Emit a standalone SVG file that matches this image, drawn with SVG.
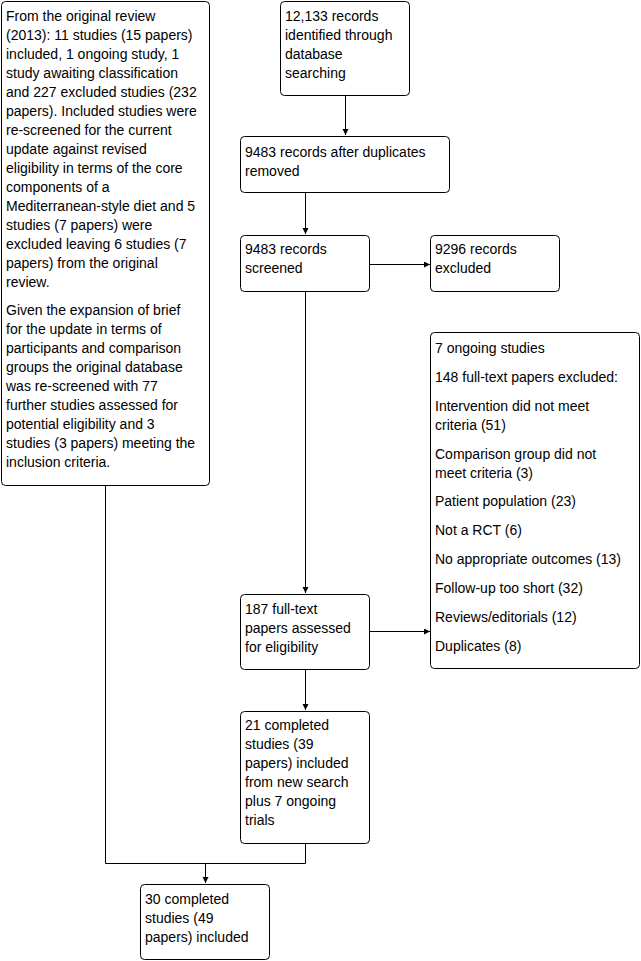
<svg xmlns="http://www.w3.org/2000/svg" width="641" height="961" viewBox="0 0 641 961">
<style>
.box{fill:#fff;stroke:#000;stroke-width:1}
text{font-family:"Liberation Sans",Arial,sans-serif;font-size:14px;fill:#000}
.c{fill:none;stroke:#000;stroke-width:1}
</style>
<defs>
<marker id="ah" markerWidth="6" markerHeight="8" refX="6" refY="3" orient="auto" markerUnits="userSpaceOnUse">
<path d="M0,0 L6,3 L0,6 Z" fill="#000"/>
</marker>
</defs>
<rect width="641" height="961" fill="#fff"/>
<g id="connectors">
<path class="c" d="M345.5,95 V135" marker-end="url(#ah)"/>
<path class="c" d="M305.5,193 V234" marker-end="url(#ah)"/>
<path class="c" d="M369,264.5 H430" marker-end="url(#ah)"/>
<path class="c" d="M305.5,291 V593" marker-end="url(#ah)"/>
<path class="c" d="M369,631.5 H430" marker-end="url(#ah)"/>
<path class="c" d="M305.5,670 V710" marker-end="url(#ah)"/>
<path class="c" d="M305.5,843 V863.5 H105.5 V485"/>
<path class="c" d="M205.5,863.5 V883" marker-end="url(#ah)"/>
</g>
<g id="orig">
<rect class="box" x="1.5" y="1.5" width="208" height="484" rx="4"/>
<text x="6"><tspan x="6" y="21">From the original review</tspan><tspan x="6" y="40">(2013): 11 studies (15 papers)</tspan><tspan x="6" y="59">included, 1 ongoing study, 1</tspan><tspan x="6" y="78">study awaiting classification</tspan><tspan x="6" y="97">and 227 excluded studies (232</tspan><tspan x="6" y="116">papers). Included studies were</tspan><tspan x="6" y="135">re-screened for the current</tspan><tspan x="6" y="154">update against revised</tspan><tspan x="6" y="173">eligibility in terms of the core</tspan><tspan x="6" y="192">components of a</tspan><tspan x="6" y="211">Mediterranean-style diet and 5</tspan><tspan x="6" y="230">studies (7 papers) were</tspan><tspan x="6" y="249">excluded leaving 6 studies (7</tspan><tspan x="6" y="268">papers) from the original</tspan><tspan x="6" y="287">review.</tspan><tspan x="6" y="315">Given the expansion of brief</tspan><tspan x="6" y="334">for the update in terms of</tspan><tspan x="6" y="353">participants and comparison</tspan><tspan x="6" y="372">groups the original database</tspan><tspan x="6" y="391">was re-screened with 77</tspan><tspan x="6" y="410">further studies assessed for</tspan><tspan x="6" y="429">potential eligibility and 3</tspan><tspan x="6" y="448">studies (3 papers) meeting the</tspan><tspan x="6" y="467">inclusion criteria.</tspan></text>
</g>
<g id="identified">
<rect class="box" x="280.5" y="1.5" width="129" height="94" rx="4"/>
<text><tspan x="285" y="21">12,133 records</tspan><tspan x="285" y="40">identified through</tspan><tspan x="285" y="59">database</tspan><tspan x="285" y="78">searching</tspan></text>
</g>
<g id="dedup">
<rect class="box" x="240.5" y="136.5" width="209" height="56" rx="4"/>
<text><tspan x="245" y="157">9483 records after duplicates</tspan><tspan x="245" y="176">removed</tspan></text>
</g>
<g id="screened">
<rect class="box" x="240.5" y="235.5" width="129" height="56" rx="4"/>
<text><tspan x="245" y="254">9483 records</tspan><tspan x="245" y="273">screened</tspan></text>
</g>
<g id="excluded">
<rect class="box" x="430.5" y="235.5" width="129" height="56" rx="4"/>
<text><tspan x="435" y="254">9296 records</tspan><tspan x="435" y="273">excluded</tspan></text>
</g>
<g id="fulltext">
<rect class="box" x="240.5" y="594.5" width="129" height="75" rx="4"/>
<text><tspan x="245" y="614">187 full-text</tspan><tspan x="245" y="633">papers assessed</tspan><tspan x="245" y="652">for eligibility</tspan></text>
</g>
<g id="ftexcluded">
<rect class="box" x="430.5" y="332.5" width="209" height="336" rx="4"/>
<text><tspan x="435" y="353">7 ongoing studies</tspan><tspan x="435" y="382">148 full-text papers excluded:</tspan><tspan x="435" y="411">Intervention did not meet</tspan><tspan x="435" y="430">criteria (51)</tspan><tspan x="435" y="459">Comparison group did not</tspan><tspan x="435" y="478">meet criteria (3)</tspan><tspan x="435" y="506">Patient population (23)</tspan><tspan x="435" y="535">Not a RCT (6)</tspan><tspan x="435" y="564">No appropriate outcomes (13)</tspan><tspan x="435" y="593">Follow-up too short (32)</tspan><tspan x="435" y="622">Reviews/editorials (12)</tspan><tspan x="435" y="651">Duplicates (8)</tspan></text>
</g>
<g id="completed">
<rect class="box" x="240.5" y="711.5" width="129" height="132" rx="4"/>
<text><tspan x="245" y="730">21 completed</tspan><tspan x="245" y="749">studies (39</tspan><tspan x="245" y="768">papers) included</tspan><tspan x="245" y="787">from new search</tspan><tspan x="245" y="806">plus 7 ongoing</tspan><tspan x="245" y="825">trials</tspan></text>
</g>
<g id="final">
<rect class="box" x="140.5" y="884.5" width="129" height="75" rx="4"/>
<text><tspan x="145" y="904">30 completed</tspan><tspan x="145" y="923">studies (49</tspan><tspan x="145" y="942">papers) included</tspan></text>
</g>
</svg>
